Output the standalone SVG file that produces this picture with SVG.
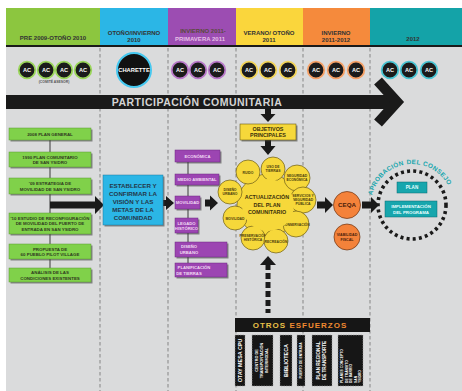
<svg xmlns="http://www.w3.org/2000/svg" width="462" height="391" viewBox="0 0 462 391">
<style>
text{font-family:"Liberation Sans",Arial,sans-serif;font-weight:bold;text-anchor:middle}
.hd{font-size:6px;fill:#333}
.ac{fill:#1b1b1b;stroke-width:1.8}
.act{font-size:5.6px;fill:#fff}
.gb{fill:#80d14a;stroke:#5a9a30;stroke-width:0.5}
.sh{fill:#3a3a3a;opacity:0.55}
.gt{font-size:4.4px;fill:#2f3a20}
.pb{fill:#9c45b2;stroke:#6d2a80;stroke-width:0.5}
.pt{font-size:4.2px;fill:#f2dcf4}
.yc{fill:#f6d83a;stroke:#6a5a18;stroke-width:0.7}
.yt{font-size:3.4px;fill:#4a3a0c}
.oc{fill:#f4823a;stroke:#6a3010;stroke-width:0.7}
.tb{fill:#17a6ad;stroke:#0a6a70;stroke-width:0.5}
.tt{font-size:4.6px;fill:#e8ffff}
.dv{stroke:#858585;stroke-width:1;stroke-dasharray:3.5 2.5;fill:none}
.blk{fill:#1a1a1a}
.vb{fill:#161616;stroke:#9a9a9a;stroke-width:0.6;stroke-dasharray:1.5 1}
.vt{font-size:4.6px;fill:#fff}
.arc{font-size:6.4px;fill:#17a6ad;letter-spacing:0.3px;text-anchor:start}
</style>
<rect x="0" y="0" width="462" height="391" fill="#ffffff"/>
<rect x="6" y="8" width="456" height="383" fill="#dadbdc"/>
<!-- header -->
<g id="header">
<rect x="6" y="8" width="94" height="37" fill="#8cc63f"/>
<rect x="100" y="8" width="68" height="37" fill="#2bb6e6"/>
<rect x="168" y="8" width="68" height="37" fill="#9c4db2"/>
<rect x="236" y="8" width="67" height="37" fill="#fad63c"/>
<rect x="303" y="8" width="67" height="37" fill="#f58a3c"/>
<rect x="370" y="8" width="92" height="37" fill="#14a3a8"/>
<rect x="6" y="45" width="456" height="2" fill="#1a1a1a"/>
<text class="hd" x="53" y="40">PRE 2009-OTOÑO 2010</text>
<text class="hd" x="134" y="35">OTOÑO/INVIERNO</text>
<text class="hd" x="134" y="42">2010</text>
<text class="hd" x="203" y="33" style="fill:#5a4a3a">INVIERNO 2011-</text>
<text class="hd" x="200" y="41" style="fill:#e6bfe6">PRIMAVERA 2011</text>
<text class="hd" x="269" y="35">VERANO/ OTOÑO</text>
<text class="hd" x="269" y="42">2011</text>
<text class="hd" x="336" y="35">INVIERNO</text>
<text class="hd" x="336" y="42">2011-2012</text>
<text class="hd" x="413" y="41">2012</text>
</g>
<!-- column dividers -->
<g id="dividers">
<line class="dv" x1="100" y1="48" x2="100" y2="391"/>
<line class="dv" x1="168" y1="48" x2="168" y2="391"/>
<line class="dv" x1="236" y1="48" x2="236" y2="391"/>
<line class="dv" x1="303" y1="48" x2="303" y2="391"/>
<line class="dv" x1="370" y1="48" x2="370" y2="391"/>
</g>
<!-- AC row -->
<g id="ac-green">
<circle class="ac" cx="27" cy="70" r="8.3" stroke="#9ad65a"/><text class="act" x="27" y="72">AC</text>
<circle class="ac" cx="46" cy="70" r="8.3" stroke="#9ad65a"/><text class="act" x="46" y="72">AC</text>
<circle class="ac" cx="64" cy="70" r="8.3" stroke="#9ad65a"/><text class="act" x="64" y="72">AC</text>
<circle class="ac" cx="83" cy="70" r="8.3" stroke="#9ad65a"/><text class="act" x="83" y="72">AC</text>
<text x="54" y="83" style="font-size:3.4px;fill:#555">(COMITÉ ASESOR)</text>
</g>
<g id="charette">
<circle cx="134" cy="70" r="17" fill="#111" stroke="#45c8f0" stroke-width="2"/>
<text x="134" y="72" style="font-size:5.8px;fill:#fff">CHARETTE</text>
</g>
<g id="ac-purple">
<circle class="ac" cx="180" cy="70" r="8.3" stroke="#b878c8"/><text class="act" x="180" y="72">AC</text>
<circle class="ac" cx="198" cy="70" r="8.3" stroke="#b878c8"/><text class="act" x="198" y="72">AC</text>
<circle class="ac" cx="217" cy="70" r="8.3" stroke="#b878c8"/><text class="act" x="217" y="72">AC</text>
</g>
<g id="ac-yellow">
<circle class="ac" cx="249" cy="70" r="8.3" stroke="#f2d458"/><text class="act" x="249" y="72">AC</text>
<circle class="ac" cx="268" cy="70" r="8.3" stroke="#f2d458"/><text class="act" x="268" y="72">AC</text>
<circle class="ac" cx="288" cy="70" r="8.3" stroke="#f2d458"/><text class="act" x="288" y="72">AC</text>
</g>
<g id="ac-orange">
<circle class="ac" cx="316" cy="70" r="8.3" stroke="#f5a066"/><text class="act" x="316" y="72">AC</text>
<circle class="ac" cx="336" cy="70" r="8.3" stroke="#f5a066"/><text class="act" x="336" y="72">AC</text>
<circle class="ac" cx="356" cy="70" r="8.3" stroke="#f5a066"/><text class="act" x="356" y="72">AC</text>
</g>
<g id="ac-teal">
<circle class="ac" cx="390" cy="70" r="8.3" stroke="#48c4d2"/><text class="act" x="390" y="72">AC</text>
<circle class="ac" cx="409" cy="70" r="8.3" stroke="#48c4d2"/><text class="act" x="409" y="72">AC</text>
<circle class="ac" cx="429" cy="70" r="8.3" stroke="#48c4d2"/><text class="act" x="429" y="72">AC</text>
</g>
<!-- big arrow -->
<g id="participacion">
<rect x="6" y="95" width="388" height="14" fill="#1a1a1a"/>
<polyline points="378,81 397,102 378,123" fill="none" stroke="#1a1a1a" stroke-width="10.5"/>
<text x="197" y="106" style="font-size:10.5px;fill:#d4d4d4;letter-spacing:0.5px">PARTICIPACIÓN COMUNITARIA</text>
</g>
<!-- connectors -->
<g id="connectors">
<line x1="50" y1="140" x2="50" y2="268" stroke="#555" stroke-width="1.2"/>
<line x1="188" y1="162" x2="188" y2="265" stroke="#555" stroke-width="1.2"/>
<polygon class="blk" points="50,201.5 95,201.5 95,196 104,205 95,214 95,208.5 50,208.5"/>
<polygon class="blk" points="163,200 166,200 166,196 174,203 166,210 166,206 163,206"/>
<polygon class="blk" points="205,199.5 210,199.5 210,195.5 218,203 210,210.5 210,206.5 205,206.5"/>
<polygon class="blk" points="265,109 271,109 271,114 275.5,114 268,122 260.5,114 265,114"/>
<polygon class="blk" points="265,140 271,140 271,146 275.5,146 268,155 260.5,146 265,146"/>
<polygon class="blk" points="317,201.5 325,201.5 325,197 333,205 325,213 325,208.5 317,208.5"/>
<polygon class="blk" points="362,201.5 371,201.5 371,197 379,205 371,213 371,208.5 362,208.5"/>
<line x1="268" y1="264" x2="268" y2="313" stroke="#1a1a1a" stroke-width="5" stroke-dasharray="6 3"/>
<polygon class="blk" points="268,256 276,265 260,265"/>
</g>
<!-- green boxes -->
<g id="g1"><rect class="sh" x="10.5" y="129.5" width="82" height="12"/><rect class="gb" x="9" y="128" width="82" height="12"/><text class="gt" x="50" y="135.5">2008 PLAN GENERAL</text></g>
<g id="g2"><rect class="sh" x="10.5" y="153.5" width="82" height="15"/><rect class="gb" x="9" y="152" width="82" height="15"/><text class="gt" x="50" y="158.5">1990 PLAN COMUNITARIO</text><text class="gt" x="50" y="164">DE SAN YSIDRO</text></g>
<g id="g3"><rect class="sh" x="10.5" y="179.5" width="82" height="16"/><rect class="gb" x="9" y="178" width="82" height="16"/><text class="gt" x="50" y="185">'09 ESTRATEGIA DE</text><text class="gt" x="50" y="190.5">MOVILIDAD DE SAN YSIDRO</text></g>
<g id="g4"><rect class="sh" x="10.5" y="214.5" width="82" height="21"/><rect class="gb" x="9" y="213" width="82" height="21"/><text class="gt" x="50" y="219.5">'10 ESTUDIO DE RECONFIGURACIÓN</text><text class="gt" x="50" y="225">DE MOVILIDAD DEL PUERTO DE</text><text class="gt" x="50" y="230.5">ENTRADA EN SAN YSIDRO</text></g>
<g id="g5"><rect class="sh" x="10.5" y="245.5" width="82" height="15"/><rect class="gb" x="9" y="244" width="82" height="15"/><text class="gt" x="50" y="250.5">PROPUESTA DE</text><text class="gt" x="50" y="256">60 PUEBLO PILOT VILLAGE</text></g>
<g id="g6"><rect class="sh" x="10.5" y="269.5" width="82" height="14"/><rect class="gb" x="9" y="268" width="82" height="14"/><text class="gt" x="50" y="274">ANÁLISIS DE LAS</text><text class="gt" x="50" y="279.5">CONDICIONES EXISTENTES</text></g>
<!-- cyan box -->
<g id="vision">
<rect class="sh" x="104.5" y="176.5" width="60" height="50"/>
<rect x="103" y="175" width="60" height="50" fill="#2bb6e6" stroke="#1a7aa0" stroke-width="0.5"/>
<text x="133" y="188" style="font-size:6.2px;fill:#24384a">ESTABLECER Y</text>
<text x="133" y="196" style="font-size:6.2px;fill:#24384a">CONFIRMAR LA</text>
<text x="133" y="204" style="font-size:6.2px;fill:#24384a">VISIÓN Y LAS</text>
<text x="133" y="212" style="font-size:6.2px;fill:#24384a">METAS DE LA</text>
<text x="133" y="220" style="font-size:6.2px;fill:#24384a">COMUNIDAD</text>
</g>
<!-- purple boxes -->
<g id="p1"><rect class="sh" x="176.5" y="151.5" width="45" height="12"/><rect class="pb" x="175" y="150" width="45" height="12"/><text class="pt" x="197.5" y="157.5">ECONÓMICA</text></g>
<g id="p2"><rect class="sh" x="176.5" y="175.5" width="44" height="11"/><rect class="pb" x="175" y="174" width="44" height="11"/><text class="pt" x="197" y="181">MEDIO AMBIENTAL</text></g>
<g id="p3"><rect class="sh" x="176.5" y="197.5" width="25" height="13"/><rect class="pb" x="175" y="196" width="25" height="13"/><text class="pt" x="187.5" y="204">MOVILIDAD</text></g>
<g id="p4"><rect class="sh" x="176.5" y="219.5" width="23" height="15"/><rect class="pb" x="175" y="218" width="23" height="15"/><text class="pt" x="186.5" y="224.5">LEGADO</text><text class="pt" x="186.5" y="229.5">HISTÓRICO</text></g>
<g id="p5"><rect class="sh" x="176.5" y="243.5" width="52" height="15"/><rect class="pb" x="175" y="242" width="52" height="15"/><text class="pt" x="189" y="248">DISEÑO</text><text class="pt" x="189" y="254">URBANO</text></g>
<g id="p6"><rect class="sh" x="176.5" y="264.5" width="52" height="14"/><rect class="pb" x="175" y="263" width="52" height="14"/><text class="pt" x="194" y="269">PLANIFICACIÓN</text><text class="pt" x="189" y="274.5">DE TIERRAS</text></g>
<!-- objetivos -->
<g id="objetivos">
<rect class="sh" x="241.5" y="125.5" width="56" height="16"/>
<rect x="240" y="124" width="56" height="16" fill="#f6d83a" stroke="#6a5a18" stroke-width="0.6"/>
<text x="268" y="130.5" style="font-size:5.4px;fill:#3a300c">OBJETIVOS</text>
<text x="268" y="137" style="font-size:5.4px;fill:#3a300c">PRINCIPALES</text>
</g>
<!-- yellow cluster -->
<g id="actualizacion">
<circle class="yc" cx="268" cy="205" r="31"/>
<g id="y-ruido"><circle class="yc" cx="248" cy="172" r="12"/><text class="yt" x="248" y="173.5">RUIDO</text></g>
<g id="y-uso"><circle class="yc" cx="273" cy="169" r="12"/><text class="yt" x="273" y="168">USO DE</text><text class="yt" x="273" y="172">TIERRAS</text></g>
<g id="y-seg"><circle class="yc" cx="297" cy="178" r="13"/><text class="yt" x="297" y="177">SEGURIDAD</text><text class="yt" x="297" y="181">ECONÓMICA</text></g>
<g id="y-dis"><circle class="yc" cx="230" cy="192" r="12"/><text class="yt" x="230" y="191">DISEÑO</text><text class="yt" x="230" y="195">URBANO</text></g>
<g id="y-serv"><circle class="yc" cx="303" cy="200" r="13"/><text class="yt" x="303" y="197">SERVICIOS Y</text><text class="yt" x="303" y="201">SEGURIDAD</text><text class="yt" x="303" y="205">PÚBLICA</text></g>
<g id="y-mov"><circle class="yc" cx="235" cy="218" r="12"/><text class="yt" x="235" y="219.5">MOVILIDAD</text></g>
<g id="y-cons"><circle class="yc" cx="296" cy="224" r="13"/><text class="yt" x="296" y="225.5">CONSERVACIÓN</text></g>
<g id="y-pres"><circle class="yc" cx="253" cy="238" r="12"/><text class="yt" x="253" y="237">PRESERVACIÓN</text><text class="yt" x="253" y="241">HISTÓRICA</text></g>
<g id="y-rec"><circle class="yc" cx="276" cy="241" r="12"/><text class="yt" x="276" y="242.5">RECREACIÓN</text></g>
<circle cx="268" cy="205" r="26" fill="#f6d83a"/>
<text x="267" y="199" style="font-size:5.4px;fill:#3a300c">ACTUALIZACIÓN</text>
<text x="267" y="206.5" style="font-size:5.4px;fill:#3a300c">DEL PLAN</text>
<text x="267" y="214" style="font-size:5.4px;fill:#3a300c">COMUNITARIO</text>
</g>
<!-- orange -->
<g id="ceqa"><circle class="oc" cx="347" cy="205" r="13.5"/><text x="347" y="207.2" style="font-size:6.2px;fill:#4a200a">CEQA</text></g>
<g id="viabilidad"><circle class="oc" cx="347" cy="237" r="13"/><text x="347" y="236" style="font-size:3.6px;fill:#4a200a">VIABILIDAD</text><text x="347" y="240.5" style="font-size:3.6px;fill:#4a200a">FISCAL</text></g>
<!-- approval circle -->
<g id="aprobacion">
<defs><path id="arc" d="M 371 205 A 41 41 0 0 1 453 205"/></defs>
<circle cx="412" cy="205" r="34" fill="none" stroke="#1a1a1a" stroke-width="3.6" stroke-dasharray="3 3.2"/>
<text class="arc"><textPath href="#arc" startOffset="9.5">APROBACIÓN</textPath></text>
<text class="arc"><textPath href="#arc" startOffset="59">DEL</textPath></text>
<text class="arc"><textPath href="#arc" startOffset="75">CONSEJO</textPath></text>
<g id="plan"><rect class="tb" x="397" y="182" width="30" height="11"/><text class="tt" x="412" y="189.3">PLAN</text></g>
<g id="implementacion"><rect class="tb" x="385" y="201" width="52" height="16"/><text class="tt" x="411" y="207.5" style="font-size:4.4px">IMPLEMENTACIÓN</text><text class="tt" x="411" y="213.5" style="font-size:4.4px">DEL PROGRAMA</text></g>
</g>
<!-- otros esfuerzos -->
<g id="otros">
<rect x="235" y="318" width="135" height="14" fill="#161616"/>
<text x="300" y="328" style="font-size:8px;letter-spacing:1px;fill:#e8c048">OTROS <tspan style="fill:#f08a30">ESFUERZOS</tspan></text>
</g>
<g id="o1"><rect class="vb" x="235" y="335" width="10" height="51"/><text class="vt" transform="translate(242,360.5) rotate(-90)" style="font-size:5.4px">OTAY MESA CPU</text></g>
<g id="o2"><rect class="vb" x="252" y="335" width="21" height="51"/><text class="vt" transform="translate(258,360.5) rotate(-90)" style="font-size:3.8px"><tspan x="0" dy="0">CENTRO DE</tspan><tspan x="0" dy="5">TRANSPORTACIÓN</tspan><tspan x="0" dy="5">INTERMODAL</tspan></text></g>
<g id="o3"><rect class="vb" x="280" y="335" width="12" height="51"/><text class="vt" transform="translate(288,360.5) rotate(-90)" style="font-size:5.4px">BIBLIOTECA</text></g>
<g id="o4"><rect class="vb" x="297" y="335" width="8" height="51"/><text class="vt" transform="translate(302.3,360.5) rotate(-90)" style="font-size:3.3px">PUERTO DE ENTRADA</text></g>
<g id="o5"><rect class="vb" x="312" y="335" width="20" height="51"/><text class="vt" transform="translate(320,360.5) rotate(-90)" style="font-size:4.6px"><tspan x="0" dy="0">PLAN REGIONAL</tspan><tspan x="0" dy="6">DE TRANSPORTE</tspan></text></g>
<g id="o6"><rect class="vb" x="338" y="335" width="25" height="51"/><text class="vt" transform="translate(343,383) rotate(-90)" style="font-size:3.4px;text-anchor:start"><tspan x="0" dy="0">PLANES CONCEPTO</tspan><tspan x="0" dy="4.5">DE TRÁNSITO</tspan><tspan x="0" dy="4.5">DE BARRIO</tspan><tspan x="0" dy="4.5">SAN</tspan><tspan x="0" dy="4.5">YSIDRO</tspan></text></g>
</svg>
